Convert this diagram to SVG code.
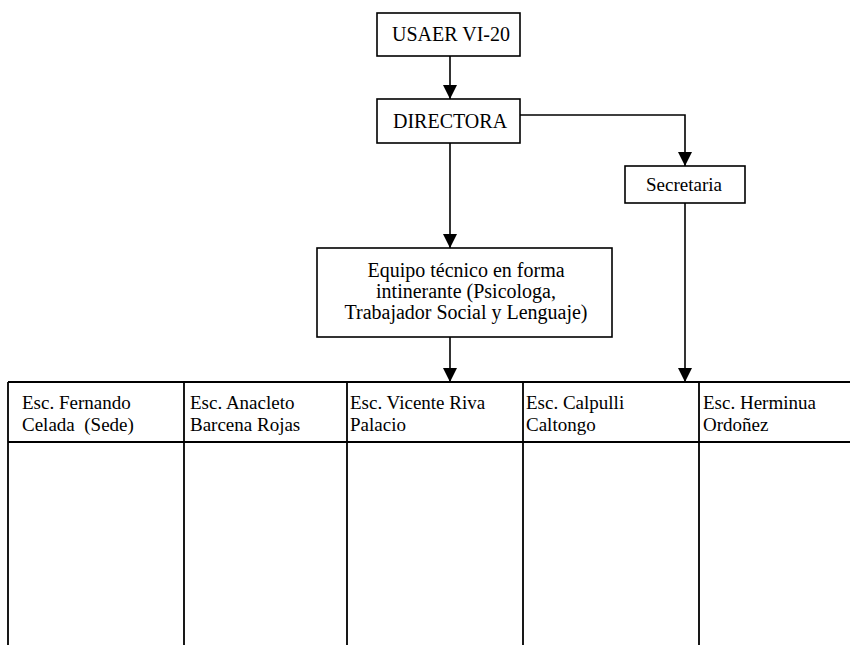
<svg xmlns="http://www.w3.org/2000/svg" width="850" height="645" viewBox="0 0 850 645">
<style>
.box{fill:#fff;stroke:#000;stroke-width:1.6}
.t{font-family:"Liberation Serif","Times New Roman",serif;font-size:19px;fill:#000}
.b{font-size:20px}
.c{text-anchor:middle}
.ln{fill:none;stroke:#000;stroke-width:1.6}
.grid{fill:none;stroke:#000;stroke-width:1.8}
</style>
<defs>
<marker id="ah" markerWidth="14" markerHeight="14" refX="14" refY="7" orient="auto" markerUnits="userSpaceOnUse">
<path d="M0,0 L14,7 L0,14 Z" fill="#000"/>
</marker>
</defs>
<rect width="850" height="645" fill="#fff"/>
<g id="usaer"><rect class="box" x="377" y="13" width="143" height="43"/><text class="t b" x="392" y="41">USAER VI-20</text></g>
<g id="directora"><rect class="box" x="377" y="99" width="143" height="44"/><text class="t b" x="393" y="128">DIRECTORA</text></g>
<g id="secretaria"><rect class="box" x="625" y="166" width="120" height="37"/><text class="t c" x="684" y="191">Secretaria</text></g>
<g id="equipo"><rect class="box" x="317" y="248" width="295" height="89"/>
<text class="t b c" x="466" y="277">Equipo técnico en forma</text>
<text class="t b c" x="466" y="298">intinerante (Psicologa,</text>
<text class="t b c" x="466" y="319">Trabajador Social y Lenguaje)</text></g>
<g id="tabla">
<path class="grid" d="M8,382 H850 M8,442 H850 M8,382 V645 M184,382 V645 M347,382 V645 M523,382 V645 M699,382 V645"/>
<text class="t" x="22" y="409">Esc. Fernando</text><text class="t" x="22" y="431" xml:space="preserve">Celada  (Sede)</text>
<text class="t" x="190" y="409">Esc. Anacleto</text><text class="t" x="190" y="431">Barcena Rojas</text>
<text class="t" x="350" y="409">Esc. Vicente Riva</text><text class="t" x="350" y="431">Palacio</text>
<text class="t" x="526" y="409">Esc. Calpulli</text><text class="t" x="526" y="431">Caltongo</text>
<text class="t" x="703" y="409">Esc. Herminua</text><text class="t" x="703" y="431">Ordoñez</text>
</g>
<g id="connectors">
<path class="ln" d="M450,56 V99" marker-end="url(#ah)"/>
<path class="ln" d="M520,115 H685 V166" marker-end="url(#ah)"/>
<path class="ln" d="M450,143 V248" marker-end="url(#ah)"/>
<path class="ln" d="M685,203 V382" marker-end="url(#ah)"/>
<path class="ln" d="M450,337 V382" marker-end="url(#ah)"/>
</g>
</svg>
